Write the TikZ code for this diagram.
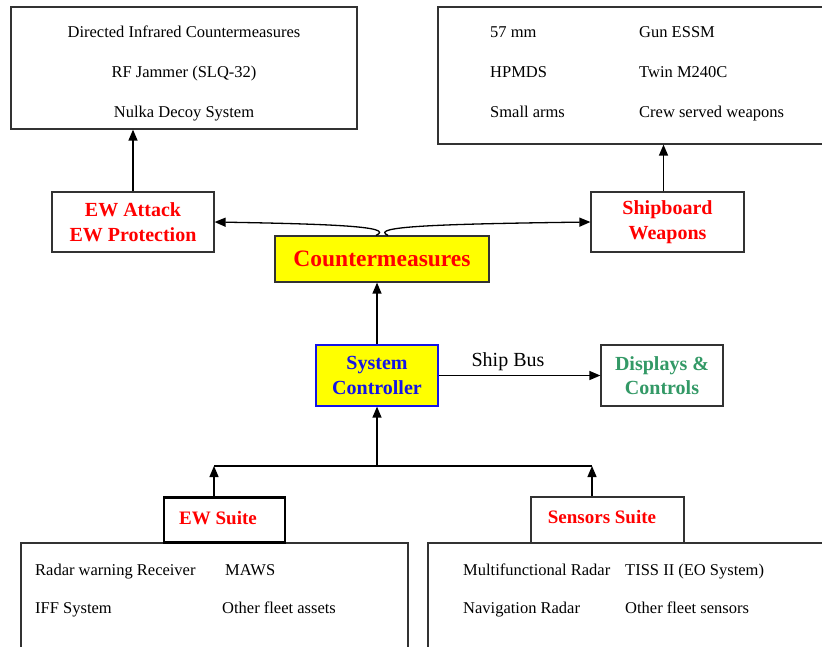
\documentclass[tikz,border=0pt]{standalone}
\usepackage{fontspec}
\setmainfont{Liberation Serif}
\usetikzlibrary{arrows.meta,calc}
\definecolor{hdred}{RGB}{255,0,0}
\definecolor{hdyellow}{RGB}{255,255,0}
\definecolor{hdblue}{RGB}{20,20,230}
\definecolor{hdgreen}{RGB}{51,153,102}
\definecolor{edge}{RGB}{50,50,50}
\begin{document}
\begin{tikzpicture}[x=1pt,y=-1pt,
  box/.style={draw=edge, line width=1.2pt, inner sep=0pt, minimum width=#1},
  box/.default=10pt,
  itemtxt/.style={inner sep=0pt, font=\fontsize{16.5}{20}\selectfont, text height=11.5pt, text depth=3.5pt},
  head/.style={font=\fontsize{20}{24.5}\selectfont\bfseries, align=center, inner sep=0pt},
  arr/.style={-{Triangle[length=11pt,width=9pt]}, line width=1.3pt, black},
  conn/.style={line width=1.3pt, black}]
\useasboundingbox (0,0) rectangle (822,646);
\fill[white] (0,0) rectangle (822,646);

% top boxes
\node[box=346pt, minimum height=122pt] (tl) at (184,68) {};
\node[itemtxt] (tl1) at (184,33) {Directed Infrared Countermeasures};
\node[itemtxt] (tl2) at (184,73) {RF Jammer (SLQ-32)};
\node[itemtxt] (tl3) at (184,113) {Nulka Decoy System};

\node[box=392pt, minimum height=137pt] (tr) at (634,75.5) {};
\node[itemtxt, anchor=west] (tr1) at (490,33) {57 mm};
\node[itemtxt, anchor=west] (tr2) at (639,33) {Gun ESSM};
\node[itemtxt, anchor=west] (tr3) at (490,73) {HPMDS};
\node[itemtxt, anchor=west] (tr4) at (639,73) {Twin M240C};
\node[itemtxt, anchor=west] (tr5) at (490,113) {Small arms};
\node[itemtxt, anchor=west] (tr6) at (639,113) {Crew served weapons};

% middle boxes
\node[box=162pt, minimum height=60pt, head, text=hdred] (ewa) at (133,222) {EW Attack\\EW Protection};
\node[box=153pt, minimum height=60pt, head, text=hdred] (sw) at (667.5,222) {Shipboard\\Weapons};
\node[box=214pt, minimum height=46pt, fill=hdyellow, text=hdred, inner sep=0pt,
      font=\fontsize{23.5}{26}\selectfont\bfseries] (cm) at (382,259) {Countermeasures};
\node[box=122pt, minimum height=61pt, fill=hdyellow, draw=hdblue, head, text=hdblue] (sc) at (377,375.5) {System\\Controller};
\node[box=122pt, minimum height=61pt, head, text=hdgreen] (dc) at (662,375.5) {Displays \&\\Controls};

% bottom
\node[box=387pt, minimum height=117pt] (bl) at (214.5,601.5) {};
\node[itemtxt, anchor=west] (bl1) at (35,571) {Radar warning Receiver};
\node[itemtxt, anchor=west] (bl2) at (225,571) {MAWS};
\node[itemtxt, anchor=west] (bl3) at (35,609) {IFF System};
\node[itemtxt, anchor=west] (bl4) at (222,609) {Other fleet assets};

\node[box=402pt, minimum height=117pt] (br) at (629,601.5) {};
\node[itemtxt, anchor=west] (br1) at (463,571) {Multifunctional Radar};
\node[itemtxt, anchor=west] (br2) at (625,571) {TISS II (EO System)};
\node[itemtxt, anchor=west] (br3) at (463,609) {Navigation Radar};
\node[itemtxt, anchor=west] (br4) at (625,609) {Other fleet sensors};

\node[draw=black, fill=white, line width=2.6pt, minimum width=121pt, minimum height=45pt, inner sep=0pt] (ews) at (224.5,520) {};
\node[head, text=hdred, font=\fontsize{19}{22}\selectfont\bfseries] (ewst) at (218,518) {EW Suite};
\node[box=153pt, fill=white, minimum height=46pt] (ss) at (607.5,520) {};
\node[head, text=hdred, font=\fontsize{19}{22}\selectfont\bfseries] (sst) at (602,517) {Sensors Suite};

% connectors
\draw[arr] (ewa.north) -- (ewa.north |- tl.south);
\draw[arr] ($(sw.north)+(-4,0)$) -- ($(sw.north |- tr.south)+(-4,0)$);
\draw[arr] ($(cm.north)+(-6,0)$) .. controls ($(cm.north)+(14,-9)$) and (330,224) .. (ewa.east);
\draw[arr] ($(cm.north)+(6,0)$) .. controls ($(cm.north)+(-14,-9)$) and (440,224) .. (sw.west);
\draw[arr] (sc.north) -- (sc.north |- cm.south);
\draw[arr] (sc.east) -- (dc.west);
\node[inner sep=0pt, font=\fontsize{20}{23}\selectfont] (bus) at (508,362) {Ship Bus};

\coordinate (busC) at (377,466);
\coordinate (busL) at (214,466);
\coordinate (busR) at (592,466);
\draw[conn] (busL) -- (busR);
\draw[arr] (busC) -- (sc.south);
\draw[arr] (ews.north -| busL) -- (busL);
\draw[arr] (ss.north -| busR) -- (busR);
\end{tikzpicture}
\end{document}
